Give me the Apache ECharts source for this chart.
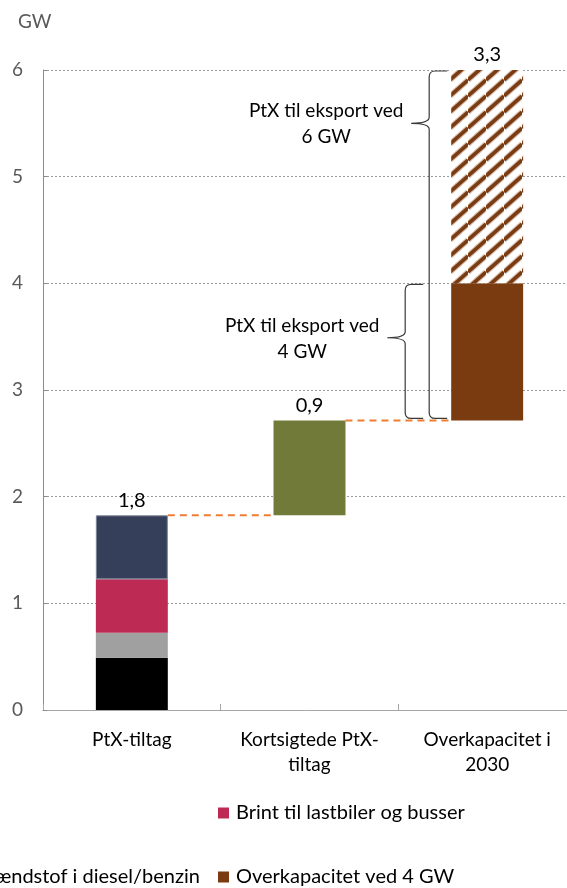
<!DOCTYPE html>
<html>
<head>
<meta charset="utf-8">
<script src="https://cdn.jsdelivr.net/npm/echarts@6/dist/echarts.min.js"></script>
<style>html,body{margin:0;padding:0;background:#fff;}#c{width:567px;height:888px;}</style>
</head>
<body>
<div id="c"></div>
<script>
// ---- data ----
const categories = ['PtX-tiltag', 'Kortsigtede PtX-\ntiltag', 'Overkapacitet i\n2030'];
const metanol = [0.49, '-', '-'];
const diesel = [0.235, '-', '-'];
const brint = [0.5, '-', '-'];
const jetfuel = [0.6, '-', '-'];
const kortsigtede = ['-', 0.89, '-'];
const overkap4 = ['-', '-', 1.285];
const overkap6 = ['-', '-', 2.0];
const yTicks = [0, 1, 2, 3, 4, 5, 6];
const braceTops = [6, 4];
const braceTips = [5.5, 3.49];
const braceTexts = ['PtX til eksport ved\n6 GW', 'PtX til eksport ved\n4 GW'];

// ---- derived ----
const num = v => (v === '-' ? 0 : v);
const parts = [metanol, diesel, brint, jetfuel, kortsigtede, overkap4, overkap6];
const barTotals = categories.map((_, i) => parts.reduce((s, a) => s + num(a[i]), 0));
const bases = [];
let acc = 0;
barTotals.forEach(t => { bases.push(acc); acc += t; });
const barTops = bases.map((b, i) => b + barTotals[i]);
const BAR_RATIO = 0.405;

function hatch() {
  const w = 18, h = 16;
  const c = document.createElement('canvas');
  c.width = w; c.height = h;
  const g = c.getContext('2d');
  g.fillStyle = '#ffffff'; g.fillRect(0, 0, w, h);
  const strokes = [[6, 'rgba(123,58,16,0.3)'], [3.6, '#7B3A10']];
  for (const [lw, col] of strokes) {
    g.strokeStyle = col; g.lineWidth = lw;
    for (const n of [-1, 0, 1]) {
      g.beginPath(); g.moveTo(0, h + n * h); g.lineTo(w, n * h); g.stroke();
    }
  }
  return c;
}

const FONT = 'Lato';
const FS = 19;
const chart = echarts.init(document.getElementById('c'));
const barBase = { type: 'bar', stack: 'w', barWidth: (BAR_RATIO * 100) + '%', emphasis: { disabled: true } };
const legendStyle = { padding: 0, icon: 'rect', itemWidth: 11, itemHeight: 11,
  textStyle: { fontSize: 20, lineHeight: 24, color: '#000', padding: [0, 0, 0, 2] } };

chart.setOption({
  animation: false,
  textStyle: { fontFamily: FONT },
  title: { text: 'GW', left: 13, top: 7, textStyle: { fontSize: FS, color: '#595959', fontWeight: 'normal', fontFamily: FONT } },
  grid: { left: 43, top: 70, width: 533, height: 640, outerBoundsMode: 'none', containLabel: false },
  legend: [
    Object.assign({ data: ['Brint til lastbiler og busser'], left: 218, top: 801 }, legendStyle),
    Object.assign({ data: ['Overkapacitet ved 4 GW'], left: 218, top: 865 }, legendStyle),
    Object.assign({ data: ['Iblanding af VE-brændstof i diesel/benzin'], right: 367, top: 865 }, legendStyle)
  ],
  xAxis: {
    type: 'category', data: categories,
    axisLine: { lineStyle: { color: '#a6a6a6', width: 1 } },
    axisTick: { show: true, inside: true, length: 6, lineStyle: { color: '#a6a6a6' } },
    axisLabel: { interval: 0, color: '#000', fontSize: FS, margin: 17, lineHeight: 25 }
  },
  yAxis: {
    type: 'value', min: yTicks[0], max: yTicks[yTicks.length - 1], interval: 1,
    axisLine: { show: true, lineStyle: { color: '#8c8c8c', width: 1 } },
    axisTick: { show: true, inside: true, length: 4, lineStyle: { color: '#8c8c8c' } },
    axisLabel: { color: '#595959', fontSize: FS, margin: 20 },
    splitLine: { show: true, lineStyle: { color: '#9a9a9a', type: [2, 2], width: 1 } }
  },
  series: [
    Object.assign({}, barBase, { name: 'base', data: bases, itemStyle: { color: 'rgba(0,0,0,0)' } }),
    Object.assign({}, barBase, { name: 'Grøn metanol til skibsfart', data: metanol, itemStyle: { color: '#000000' } }),
    Object.assign({}, barBase, { name: 'Iblanding af VE-brændstof i diesel/benzin', data: diesel, itemStyle: { color: '#a0a0a0' } }),
    Object.assign({}, barBase, { name: 'Brint til lastbiler og busser', data: brint, itemStyle: { color: '#BD2B55' } }),
    Object.assign({}, barBase, { name: 'Jetfuel til luftfart', data: jetfuel, itemStyle: { color: '#353F5A', borderColor: '#7d8496', borderWidth: 1 } }),
    Object.assign({}, barBase, { name: 'Kortsigtede PtX-tiltag', data: kortsigtede, itemStyle: { color: '#717A38' } }),
    Object.assign({}, barBase, { name: 'Overkapacitet ved 4 GW', data: overkap4, itemStyle: { color: '#7A3B10' } }),
    Object.assign({}, barBase, { name: 'Overkapacitet ved 6 GW', data: overkap6, itemStyle: { color: { image: hatch(), repeat: 'repeat' } } }),
    Object.assign({}, barBase, {
      name: 'totals', data: categories.map(() => 0), itemStyle: { color: 'rgba(0,0,0,0)' },
      label: { show: true, position: 'top', distance: 5, fontSize: 20, color: '#000',
        formatter: p => barTotals[p.dataIndex].toFixed(1).replace('.', ',') }
    }),
    {
      type: 'custom', name: 'connectors', clip: false, silent: true,
      data: barTops.slice(0, -1).map((v, i) => [i, v]),
      encode: { x: 0, y: 1 },
      renderItem: (params, api) => {
        const i = api.value(0), v = api.value(1);
        const p0 = api.coord([i, v]), p1 = api.coord([i + 1, v]);
        const half = api.size([1, 0])[0] * BAR_RATIO / 2;
        return { type: 'line', shape: { x1: p0[0] + half, y1: p0[1], x2: p1[0] - half, y2: p1[1] },
          style: { stroke: '#ED7D31', lineWidth: 2, lineDash: [7, 5] } };
      }
    },
    {
      type: 'custom', name: 'braces', clip: false, silent: true,
      data: braceTops.map((t, i) => [categories.length - 1, t, bases[categories.length - 1], braceTips[i]]),
      encode: { x: 0, y: 1 },
      renderItem: (params, api) => {
        const idx = params.dataIndex;
        const c = api.value(0);
        const half = api.size([1, 0])[0] * BAR_RATIO / 2;
        const top = api.coord([c, api.value(1)]);
        const bot = api.coord([c, api.value(2)]);
        const tip = api.coord([c, api.value(3)]);
        const barLeft = top[0] - half;
        const xv = barLeft - (idx === 0 ? 22 : 46);
        const yT = top[1] + 1, yB = bot[1] - 2, yM = tip[1];
        const xt = xv - 18, r = 6, arm = 18;
        const d = `M${xv + arm},${yT} L${xv + r},${yT} Q${xv},${yT} ${xv},${yT + r} L${xv},${yM - r} Q${xv},${yM} ${xt},${yM} Q${xv},${yM} ${xv},${yM + r} L${xv},${yB - r} Q${xv},${yB} ${xv + r},${yB} L${xv + arm},${yB}`;
        return { type: 'group', children: [
          { type: 'path', shape: { pathData: d }, style: { fill: 'none', stroke: '#3a3a3a', lineWidth: 1.2 } },
          { type: 'text', x: xt - 85, y: yM + 1, style: { text: braceTexts[idx], fontFamily: FONT, fontSize: FS, fill: '#000', align: 'center', verticalAlign: 'middle', lineHeight: 26 } }
        ] };
      }
    }
  ]
});
</script>
</body>
</html>
